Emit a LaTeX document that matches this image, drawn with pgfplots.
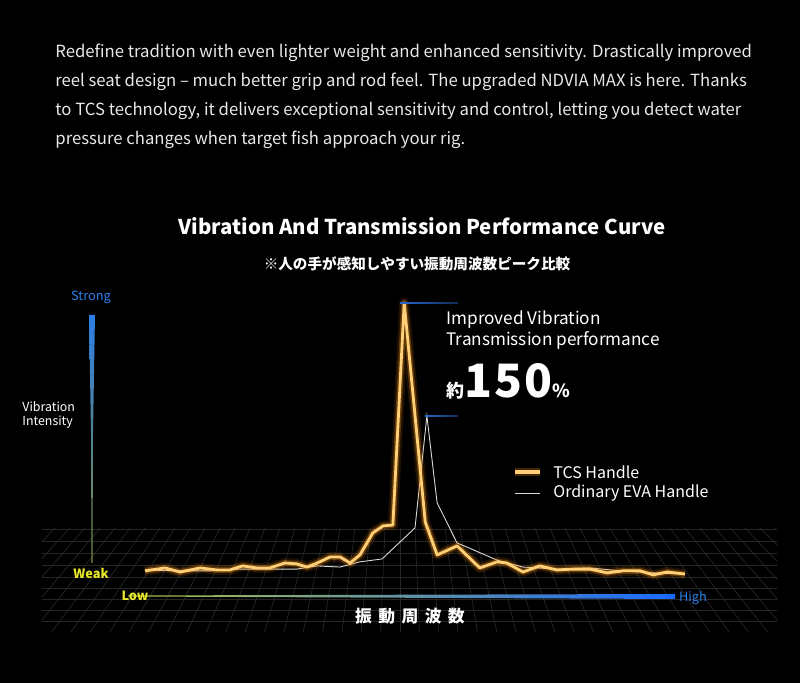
\documentclass[border=0pt]{standalone}
\usepackage{fontspec}
\setmainfont{Noto Sans CJK JP}
\usepackage{pgfplots}
\pgfplotsset{compat=1.18}
\definecolor{tcs}{RGB}{255,208,120}
\definecolor{glow}{RGB}{255,150,20}
\definecolor{bodytxt}{RGB}{232,232,232}
\definecolor{markblue}{RGB}{40,105,210}
\definecolor{strongblue}{RGB}{45,125,230}
\definecolor{weakyel}{RGB}{232,232,40}
\definecolor{gridc}{RGB}{38,38,38}
\begin{document}
\begin{tikzpicture}[x=0.5pt,y=0.5pt]
\fill[black] (0,0) rectangle (800,683);
\useasboundingbox (0,0) rectangle (800,683);
% paragraph
\begin{scope}[every node/.style={anchor=base west,inner sep=0,text=bodytxt,font=\fontsize{8.35}{10}\selectfont}]
\node at (55,625) {Redefine tradition with even lighter weight and enhanced sensitivity. Drastically improved};
\node at (55,596) {reel seat design -- much better grip and rod feel. The upgraded NDVIA MAX is here. Thanks};
\node at (55,567) {to TCS technology, it delivers exceptional sensitivity and control, letting you detect water};
\node at (55,538) {pressure changes when target fish approach your rig.};
\end{scope}
% titles
\node[anchor=base,inner sep=0,text=white,font=\fontsize{10.2}{12}\selectfont\bfseries] at (422,448) {Vibration And Transmission Performance Curve};
\node[anchor=base,inner sep=0,text=white,font=\fontsize{7.3}{8}\selectfont\bfseries] at (417,413) {※人の手が感知しやすい振動周波数ピーク比較};
% perspective floor grid
\begin{scope}
\clip (42,51) rectangle (777,155);
\foreach \yy in {51,62,73,84,95,106,118,130,142,154}
  \draw[gridc,line width=0.35pt] (0,\yy) -- (800,\yy);
\foreach \xt in {-200,-185,...,1000}
  \draw[gridc,line width=0.35pt] (\xt,155) -- ({400+(\xt-400)*1.29},51);
\end{scope}
% vertical intensity bar
\shade[top color=strongblue,middle color={rgb,255:red,120;green,180;blue,200},bottom color={rgb,255:red,120;green,140;blue,60}]
  (89,368) -- (95,368) -- (93,250) -- (92.5,120) -- (91.5,120) -- (91,250) -- cycle;
% horizontal frequency bar
\shade[left color={rgb,255:red,170;green,190;blue,70},middle color={rgb,255:red,150;green,200;blue,170},right color={rgb,255:red,25;green,105;blue,255}]
  (128,86.5) -- (675,84) -- (675,89) -- (128,87.5) -- cycle;
% axis labels
\node[text=strongblue,font=\fontsize{6.4}{8}\selectfont,inner sep=0] at (91,386) {Strong};
\node[text=weakyel,font=\fontsize{6.4}{8}\selectfont\bfseries,inner sep=0] at (91,110) {Weak};
\node[text=weakyel,font=\fontsize{6.4}{8}\selectfont\bfseries,inner sep=0] at (135,87) {Low};
\node[text=strongblue,font=\fontsize{6.4}{8}\selectfont,inner sep=0] at (693,85) {High};
\node[anchor=west,text=white,font=\fontsize{6.2}{8}\selectfont,inner sep=0] at (22,276) {Vibration};
\node[anchor=west,text=white,font=\fontsize{6.2}{8}\selectfont,inner sep=0] at (22,261) {Intensity};
\node[text=white,font=\fontsize{8.4}{10}\selectfont\bfseries,inner sep=0] at (410,67) {振\hspace{3.2pt}動\hspace{3.2pt}周\hspace{3.2pt}波\hspace{3.2pt}数};
% data
\begin{axis}[at={(72.5pt,46.5pt)},anchor=origin,x=2.7pt,y=1.45pt,
  xmin=0,xmax=100,ymin=0,ymax=100,hide axis,clip=false]
\addplot[white!85!black,line width=0.45pt] coordinates {
(0,6.9)(6.5,6.6)(12.0,6.6)(17.6,7.2)(23.1,7.2)(28.1,7.2)(31.9,8.3)(36.1,7.9)(39.8,9.7)(43.9,10.7)
(50.0,21.4)(52.2,60.0)(54.1,30.0)(57.8,16.2)(59.6,14.8)(65.2,10.3)(70.0,7.9)(76.3,7.2)(82.4,7.6)
(88.0,6.6)(94.1,5.9)(100,5.5)};
\pgfplotstableread{
x y
0 6.6
3.7 7.6
6.5 6.2
10.2 7.6
13.3 6.9
15.7 6.9
18.1 8.3
20.7 7.6
23.1 7.6
25.9 9.3
28.1 9.0
30.0 7.9
31.9 9.3
34.3 11.4
36.1 11.4
38.0 9.3
39.8 12.1
42.2 19.7
44.1 22.1
45.9 22.4
48.0 99.0
51.9 23.4
54.1 12.1
57.8 15.2
62.0 7.6
65.2 9.7
67.0 9.3
70.0 6.2
73.1 8.3
76.3 6.9
79.3 7.2
82.4 7.2
85.6 5.9
88.5 6.6
91.7 6.6
94.1 5.2
96.7 6.2
100 5.5
}\tcsdata
\addplot[glow,line width=5pt,opacity=0.12,line join=round] table {\tcsdata};
\addplot[glow,line width=3pt,opacity=0.3,line join=round] table {\tcsdata};
\addplot[tcs,line width=1.4pt,line join=round] table {\tcsdata};
\end{axis}
% peak markers
\shade[left color=markblue,right color=markblue!40!black] (400,379.3) rectangle (458,380.7);
\shade[left color=markblue,right color=markblue!40!black] (425,266.3) rectangle (458,267.7);
% annotation
\node[anchor=base west,inner sep=0,text=white,font=\fontsize{8.6}{10}\selectfont] at (446,358) {Improved Vibration};
\node[anchor=base west,inner sep=0,text=white,font=\fontsize{8.6}{10}\selectfont] at (446,337) {Transmission performance};
\node[anchor=base west,inner sep=0,text=white] at (446,285)
  {{\fontsize{9}{10}\selectfont\bfseries 約}{\fontsize{23}{26}\selectfont\bfseries 1\hspace{1pt}5\hspace{1pt}0}{\fontsize{9}{10}\selectfont\bfseries\%}};
% legend
\draw[glow,line width=4pt,opacity=0.25] (515,211) -- (540,211);
\draw[tcs,line width=1.8pt] (515,211) -- (540,211);
\node[anchor=west,inner sep=0,text=white,font=\fontsize{8}{10}\selectfont] at (553,211) {TCS Handle};
\draw[white!85!black,line width=0.45pt] (515,190) -- (540,190);
\node[anchor=west,inner sep=0,text=white,font=\fontsize{8}{10}\selectfont] at (553,190) {Ordinary EVA Handle};
\end{tikzpicture}
\end{document}
